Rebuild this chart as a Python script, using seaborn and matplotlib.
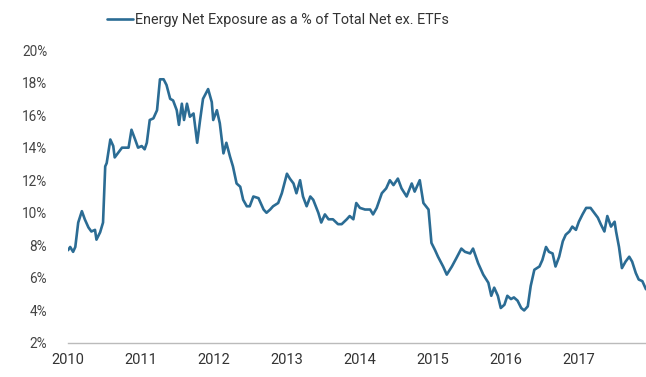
import pandas as pd
import seaborn as sns
import matplotlib.pyplot as plt

# decimal year and energy net exposure (% of total net ex. ETFs)
years = [2010.00, 2010.03, 2010.07, 2010.10, 2010.14, 2010.19, 2010.23, 2010.28, 2010.32, 2010.37,
         2010.39, 2010.44, 2010.48, 2010.51, 2010.53, 2010.58, 2010.62, 2010.64, 2010.69, 2010.74,
         2010.78, 2010.83, 2010.87, 2010.92, 2010.96, 2011.01, 2011.05, 2011.08, 2011.12, 2011.17,
         2011.22, 2011.26, 2011.31, 2011.35, 2011.40, 2011.44, 2011.49, 2011.52, 2011.56, 2011.59,
         2011.63, 2011.67, 2011.72, 2011.77, 2011.81, 2011.85, 2011.92, 2011.97, 2011.99, 2012.04,
         2012.08, 2012.13, 2012.17, 2012.22, 2012.26, 2012.31, 2012.36, 2012.40, 2012.45, 2012.49,
         2012.54, 2012.61, 2012.68, 2012.72, 2012.77, 2012.81, 2012.88, 2012.93, 2013.00, 2013.04,
         2013.09, 2013.13, 2013.18, 2013.22, 2013.27, 2013.32, 2013.36, 2013.43, 2013.47, 2013.52,
         2013.57, 2013.63, 2013.70, 2013.75, 2013.82, 2013.86, 2013.91, 2013.95, 2014.00, 2014.07,
         2014.14, 2014.18, 2014.23, 2014.30, 2014.36, 2014.41, 2014.46, 2014.52, 2014.57, 2014.64,
         2014.71, 2014.75, 2014.82, 2014.87, 2014.94, 2014.98, 2015.03, 2015.07, 2015.14, 2015.19,
         2015.26, 2015.32, 2015.39, 2015.44, 2015.51, 2015.55, 2015.62, 2015.69, 2015.76, 2015.80,
         2015.84, 2015.89, 2015.93, 2015.98, 2016.02, 2016.07, 2016.11, 2016.16, 2016.21, 2016.25,
         2016.30, 2016.34, 2016.39, 2016.46, 2016.50, 2016.55, 2016.59, 2016.64, 2016.68, 2016.73,
         2016.78, 2016.82, 2016.87, 2016.91, 2016.96, 2017.00, 2017.05, 2017.10, 2017.16, 2017.21,
         2017.26, 2017.30, 2017.35, 2017.39, 2017.44, 2017.49, 2017.51, 2017.55, 2017.59, 2017.64,
         2017.69, 2017.73, 2017.78, 2017.82, 2017.87, 2017.90, 2017.92]
exposure = [7.7, 7.9, 7.6, 7.9, 9.4, 10.1, 9.6, 9.1, 8.85, 8.95,
            8.35, 8.8, 9.4, 12.85, 13.05, 14.5, 14.1, 13.4, 13.7, 14.0,
            14.0, 14.0, 15.1, 14.5, 14.0, 14.1, 13.9, 14.3, 15.7, 15.8,
            16.3, 18.2, 18.2, 17.85, 17.0, 16.9, 16.3, 15.4, 16.7, 15.7,
            16.7, 15.9, 16.1, 14.3, 15.7, 17.0, 17.6, 16.8, 15.7, 16.3,
            15.5, 13.65, 14.3, 13.45, 12.85, 11.8, 11.6, 10.8, 10.4, 10.4,
            11.0, 10.9, 10.2, 10.0, 10.2, 10.4, 10.6, 11.2, 12.4, 12.1,
            11.8, 11.2, 12.0, 11.0, 10.4, 11.0, 10.8, 10.0, 9.4, 9.9,
            9.6, 9.6, 9.3, 9.3, 9.6, 9.8, 9.6, 10.6, 10.3, 10.2,
            10.2, 9.9, 10.3, 11.2, 11.5, 12.0, 11.7, 12.1, 11.5, 11.0,
            11.8, 11.3, 12.0, 10.6, 10.2, 8.15, 7.7, 7.3, 6.7, 6.2,
            6.7, 7.2, 7.8, 7.6, 7.5, 7.8, 6.9, 6.2, 5.7, 4.9,
            5.4, 4.9, 4.15, 4.35, 4.9, 4.7, 4.8, 4.6, 4.15, 4.0,
            4.25, 5.5, 6.5, 6.7, 7.1, 7.9, 7.6, 7.5, 6.7, 7.3,
            8.25, 8.65, 8.85, 9.15, 8.95, 9.45, 9.9, 10.3, 10.3, 10.0,
            9.7, 9.3, 8.85, 9.8, 9.15, 9.45, 8.85, 7.9, 6.6, 7.0,
            7.3, 7.0, 6.3, 5.9, 5.8, 5.5, 5.3]
year_ticks = [2010, 2011, 2012, 2013, 2014, 2015, 2016, 2017]
pct_ticks = [2, 4, 6, 8, 10, 12, 14, 16, 18, 20]
series_name = "Energy Net Exposure as a % of Total Net ex. ETFs"

df = pd.DataFrame({"year": years, "value": exposure})

sns.set_style("white")
plt.rcParams["font.family"] = ["Roboto", "DejaVu Sans"]

fig = plt.figure(figsize=(6.46, 3.77), dpi=100)
ax = fig.add_axes([68 / 646, 34 / 377, 1 - 68 / 646, 293 / 377])

sns.lineplot(data=df, x="year", y="value", ax=ax, color="#2b6c94", linewidth=1.9,
             label=series_name, legend=False)

ax.set_xlim(2010, 2017.92)
ax.set_ylim(2, 20)
ax.set_xticks(year_ticks)
ax.set_xticklabels([str(y) for y in year_ticks], fontsize=10.5, color="#333333")
ax.set_yticks(pct_ticks)
ax.set_yticklabels([f"{p}%" for p in pct_ticks], fontsize=9.8, color="#444444")
ax.tick_params(axis="y", length=0, pad=15)
ax.tick_params(axis="x", length=0, pad=7)
ax.set_xlabel("")
ax.set_ylabel("")
sns.despine(ax=ax, left=True, top=True, right=True)
ax.spines["bottom"].set_color("#bbbbbb")
ax.spines["bottom"].set_linewidth(1)

handles, labels = ax.get_legend_handles_labels()
fig.legend(handles, labels, loc="center left", bbox_to_anchor=(94 / 646, 1 - 20 / 377),
           frameon=False, fontsize=10.4, handlelength=1.8, handletextpad=0.15,
           labelcolor="#333333")

fig.savefig("out.png", dpi=100)
